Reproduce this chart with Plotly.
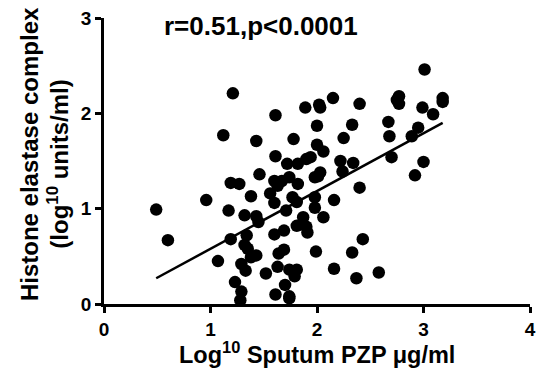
import plotly.graph_objects as go

# Scatter data (log10 sputum PZP vs log10 histone elastase complex)
pzp = [0.49, 0.60, 1.07, 0.96, 1.17, 1.12, 1.21, 1.19, 1.27, 1.19, 1.23, 1.29, 1.28,
       1.32, 1.38, 1.43, 1.46, 1.34, 1.32, 1.35, 1.38, 1.29, 1.33, 1.43, 1.43, 1.45,
       1.52, 1.56, 1.60, 1.61, 1.61, 1.60, 1.63, 1.67, 1.72, 1.74, 1.78, 1.82, 1.82,
       1.77, 1.81, 1.71, 1.60, 1.69, 1.64, 1.69, 1.63, 1.74, 1.81, 1.79, 1.70, 1.61,
       1.74, 1.74, 1.81, 1.87, 1.90, 1.91, 1.89, 1.90, 1.94, 1.98, 2.01, 2.03, 2.00,
       2.06, 2.00, 2.02, 2.03, 1.98, 1.98, 2.06, 1.99, 2.15, 2.16, 2.16, 2.22, 2.24,
       2.25, 2.33, 2.34, 2.40, 2.40, 2.43, 2.33, 2.37, 2.58, 2.67, 2.68, 2.70, 2.75,
       2.77, 2.77, 2.89, 2.95, 2.92, 3.00, 2.99, 3.01, 3.09, 3.18, 3.18]
hec = [0.99, 0.67, 0.45, 1.09, 0.98, 1.77, 2.21, 1.27, 1.26, 0.68, 0.23, 0.13, 0.04,
       0.93, 1.13, 1.71, 1.36, 0.72, 0.62, 0.58, 0.49, 0.42, 0.35, 0.51, 0.92, 0.86,
       0.32, 1.16, 1.29, 1.55, 1.98, 1.06, 1.24, 1.29, 1.47, 1.33, 1.73, 1.26, 1.47,
       1.12, 1.07, 0.98, 0.73, 0.77, 0.53, 0.57, 0.39, 0.36, 0.36, 0.29, 0.20, 0.10,
       0.08, 0.06, 0.82, 0.91, 0.81, 0.75, 2.06, 1.52, 1.54, 1.33, 1.34, 1.38, 1.67,
       1.60, 1.87, 2.09, 2.06, 1.12, 1.01, 0.91, 0.55, 2.16, 1.09, 0.37, 1.50, 1.39,
       1.74, 1.88, 1.48, 2.10, 1.22, 0.68, 0.54, 0.27, 0.33, 1.91, 1.76, 1.54, 2.14,
       2.18, 2.10, 1.76, 1.85, 1.35, 1.49, 2.06, 2.46, 1.99, 2.16, 2.12]

# Regression line endpoints
fit_x = [0.49, 3.18]
fit_y = [0.27, 1.90]

x_ticks = [0, 1, 2, 3, 4]
y_ticks = [0, 1, 2, 3]

FONT = "Arial, Liberation Sans, Helvetica, sans-serif"

W, H = 544, 373
L, R, T, B = 104, 8, 16, 69
PW, PH = W - L - R, H - T - B


def px_x(p):
    return (p - L) / PW


def px_y(p):
    return (H - B - p) / PH


fig = go.Figure()
fig.add_trace(go.Scatter(x=fit_x, y=fit_y, mode="lines",
                         line=dict(color="black", width=2.5), cliponaxis=False,
                         showlegend=False))
fig.add_trace(go.Scatter(x=pzp, y=hec, mode="markers",
                         marker=dict(color="black", size=12.5, line=dict(width=0)),
                         cliponaxis=False, showlegend=False))

axis_common = dict(showgrid=False, zeroline=False, showline=True, linecolor="black",
                   linewidth=2.5, ticks="outside", ticklen=6, tickwidth=2.5,
                   tickcolor="black",
                   tickfont=dict(family=FONT, size=19, color="black", weight="bold"))

fig.update_xaxes(range=[0, 4], tickvals=x_ticks, ticktext=[f"<b>{t}</b>" for t in x_ticks],
                 **axis_common)
fig.update_yaxes(range=[0, 3], tickvals=y_ticks, ticktext=[f"<b>{t}</b>" for t in y_ticks],
                 **axis_common)

fig.update_layout(
    width=W, height=H,
    margin=dict(l=L, r=R, t=T, b=B),
    paper_bgcolor="white", plot_bgcolor="white",
    annotations=[
        dict(text="<b>r=0.51,p<0.0001</b>", x=0.54, y=2.92, xref="x", yref="y",
             xanchor="left", yanchor="middle", showarrow=False,
             font=dict(family=FONT, size=26, color="black")),
        dict(text="<b>Log<sup>10</sup> Sputum PZP \u03bcg/ml</b>", x=px_x(320), y=px_y(353),
             xref="paper", yref="paper", xanchor="center", yanchor="middle",
             showarrow=False, font=dict(family=FONT, size=23.5, color="black")),
        dict(text="<b>Histone elastase complex</b>", x=px_x(28), y=px_y(153),
             xref="paper", yref="paper", xanchor="center", yanchor="middle",
             showarrow=False, textangle=-90,
             font=dict(family=FONT, size=24, color="black")),
        dict(text="<b>(log<sup>10</sup> units/ml)</b>", x=px_x(57), y=px_y(163),
             xref="paper", yref="paper", xanchor="center", yanchor="middle",
             showarrow=False, textangle=-90,
             font=dict(family=FONT, size=24, color="black")),
    ],
)

fig.write_html("out.html", config={"displayModeBar": False},
               post_script="document.body.style.margin='0';")
